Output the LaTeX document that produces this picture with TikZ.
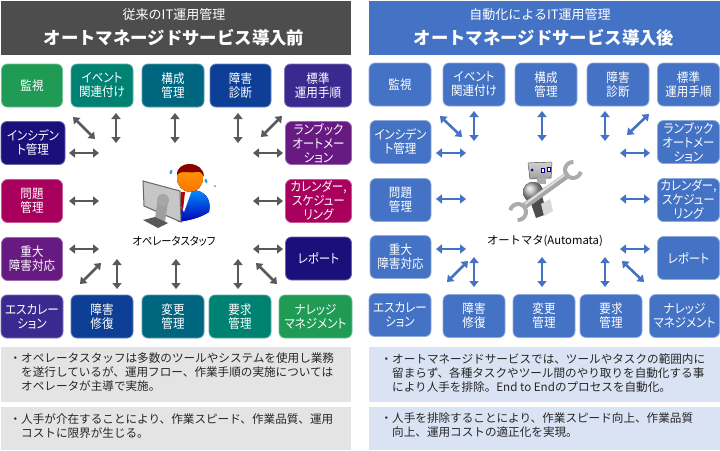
\documentclass[tikz,border=0pt]{standalone}
\usepackage{fontspec}
\setmainfont{Noto Sans CJK JP}
\newfontfamily\tightfont[RawFeature=+palt,FakeStretch=0.9]{Noto Sans CJK JP}
\usepackage{tikz}
\usetikzlibrary{arrows.meta}
\definecolor{headgray}{HTML}{4D4D4D}
\definecolor{autoblue}{HTML}{4472C4}
\definecolor{autoedge}{HTML}{8FAADC}
\definecolor{notegray}{HTML}{E4E4E4}
\definecolor{noteblue}{HTML}{DAE3F3}
\definecolor{arrowgray}{HTML}{595959}
\definecolor{cgreen}{HTML}{1F9B55}
\definecolor{cteal}{HTML}{008272}
\definecolor{cpetrol}{HTML}{006680}
\definecolor{croyal}{HTML}{0D3F96}
\definecolor{cindigo}{HTML}{3A2A8F}
\definecolor{cnavy}{HTML}{1B0F7C}
\definecolor{cviolet}{HTML}{661A82}
\definecolor{cmagenta}{HTML}{A8005C}
\tikzset{
  opsbox/.style={rounded corners=6pt, text=white, align=center, inner sep=0pt,
    draw=#1!65!white, fill=#1, line width=0.8pt, minimum height=43pt,
    font=\tightfont\fontsize{12.8}{14}\selectfont},
  autobox/.style={opsbox=autoblue, draw=autoedge},
  headbar/.style={minimum width=#1, minimum height=54pt, inner sep=0pt},
  subtitle/.style={text=white, inner sep=0pt, font=\fontsize{13}{15}\selectfont},
  maintitle/.style={text=white, inner sep=0pt, font=\fontsize{17.4}{20}\selectfont\bfseries},
  notebar/.style={minimum width=#1, inner sep=0pt},
  notetext/.style={anchor=north west, align=left, inner sep=0pt, text=black!85,
    font=\fontsize{11.6}{14}\selectfont},
  staff/.style={inner sep=0pt, text=black, font=\fontsize{11.3}{13}\selectfont},
  fatgray/.style={{Triangle[width=9pt,length=6pt]}-{Triangle[width=9pt,length=6pt]},
    line width=2.6pt, draw=arrowgray, fill=arrowgray},
  fatblue/.style={fatgray, draw=autoblue, fill=autoblue},
}
\begin{document}
\begin{tikzpicture}[x=1pt,y=-1pt]
    \useasboundingbox (0,0) rectangle (720,450);
    % Headers
    \node[headbar=350pt, fill=headgray, minimum height=54pt] (lhead) at (176,28) {};
    \node[subtitle] (lsub) at (174,15) {従来のIT運用管理};
    \node[maintitle] (ltitle) at (174,38) {オートマネージドサービス導入前};
    \node[headbar=351pt, fill=autoblue] (rhead) at (544.5,28) {};
    \node[subtitle] (rsub) at (540,15) {自動化によるIT運用管理};
    \node[maintitle] (rtitle) at (544,38) {オートマネージドサービス導入後};
    %
    % Left boxes
    \node[opsbox=cgreen, minimum width=61pt] (lmon) at (32,85.5) {監視};
    \node[opsbox=cteal, minimum width=62pt] (levt) at (102,85.5) {イベント\\関連付け};
    \node[opsbox=cpetrol, minimum width=62pt] (lcfg) at (173,85.5) {構成\\管理};
    \node[opsbox=croyal, minimum width=61pt] (ldia) at (240.5,85.5) {障害\\診断};
    \node[opsbox=cindigo, minimum width=67pt] (lstd) at (318,85.5) {標準\\運用手順};
    \node[opsbox=cnavy, minimum width=64pt] (linc) at (33,143) {インシデン\\ト管理};
    \node[opsbox=cviolet, minimum width=66pt] (lrun) at (318.5,143) {ランブック\\オートメー\\ション};
    \node[opsbox=cmagenta, minimum width=61pt] (lprb) at (32,201) {問題\\管理};
    \node[opsbox=cmagenta, minimum width=66pt] (lcal) at (318.5,201) {カレンダー,\\スケジュー\\リング};
    \node[opsbox=cviolet, minimum width=61pt] (lmaj) at (32,259) {重大\\障害対応};
    \node[opsbox=cnavy, minimum width=66pt] (lrep) at (318.5,258.5) {レポート};
    \node[opsbox=cindigo, minimum width=62pt] (lesc) at (32,316.5) {エスカレー\\ション};
    \node[opsbox=croyal, minimum width=62pt] (lfix) at (102,316.5) {障害\\修復};
    \node[opsbox=cpetrol, minimum width=62pt] (lchg) at (173,316.5) {変更\\管理};
    \node[opsbox=cteal, minimum width=62pt] (lreq) at (240,316.5) {要求\\管理};
    \node[opsbox=cgreen, minimum width=73pt] (lkno) at (315.5,316.5) {ナレッジ\\マネジメント};
    %
    % Right boxes
    \node[autobox, minimum width=62pt] (rmon) at (400,84.5) {監視};
    \node[autobox, minimum width=62pt] (revt) at (474,84.5) {イベント\\関連付け};
    \node[autobox, minimum width=62pt] (rcfg) at (546,84.5) {構成\\管理};
    \node[autobox, minimum width=62pt] (rdia) at (618,84.5) {障害\\診断};
    \node[autobox, minimum width=62pt] (rstd) at (688.5,84.5) {標準\\運用手順};
    \node[autobox, minimum width=61pt] (rinc) at (400.5,142) {インシデン\\ト管理};
    \node[autobox, minimum width=62pt] (rrun) at (688.5,142) {ランブック\\オートメー\\ション};
    \node[autobox, minimum width=61pt] (rprb) at (400.5,200) {問題\\管理};
    \node[autobox, minimum width=62pt] (rcal) at (688.5,200) {カレンダー,\\スケジュー\\リング};
    \node[autobox, minimum width=61pt] (rmaj) at (400.5,257) {重大\\障害対応};
    \node[autobox, minimum width=62pt] (rrep) at (688.5,258) {レポート};
    \node[autobox, minimum width=62pt] (resc) at (400,315) {エスカレー\\ション};
    \node[autobox, minimum width=62pt] (rfix) at (474,316) {障害\\修復};
    \node[autobox, minimum width=62pt] (rchg) at (544,316) {変更\\管理};
    \node[autobox, minimum width=62pt] (rreq) at (611,316) {要求\\管理};
    \node[autobox, minimum width=70pt] (rkno) at (684.5,316) {ナレッジ\\マネジメント};
    %
    % Arrows, both ends free
    \foreach \name/\xa/\ya/\xb/\yb in {
      la/73/117/95/139, lb/116/113/116/143, lc/175/113/175/143, ld/238/113/238/143,
      le/282/116/261/137, lf/69/153/99/153, lg/253/153/283/153, lh/69/201/99/201,
      li/253/201/283/201, lj/69/249/99/249, lk/253/249/283/249, ll/101/263/80/284,
      lm/117/259/117/289, ln/176/259/176/289, lo/238/259/238/289, lp/256/263/277/284} {
      \coordinate (\name s) at (\xa,\ya);
      \coordinate (\name e) at (\xb,\yb);
      \draw[fatgray] (\name s) -- (\name e);
    }
    \foreach \name/\xa/\ya/\xb/\yb in {
      ra/440/116/462/137, rb/474/111/474/141, rc/542/111/542/141, rd/605/111/605/141,
      re/649/114/627/135, rf/436/153/466/153, rg/620/153/650/153, rh/436/199/466/199,
      ri/620/199/650/199, rj/436/249/466/249, rk/620/249/650/249, rl/468/261/447/282,
      rm/474/257/474/287, rn/542/257/542/287, ro/605/257/605/287, rp/622/261/644/282} {
      \coordinate (\name s) at (\xa,\ya);
      \coordinate (\name e) at (\xb,\yb);
      \draw[fatblue] (\name s) -- (\name e);
    }
    %
    % Operator icon
    \fill[top color=blue!45!cyan, bottom color=blue!70!black] (178,222) .. controls (178,200) and (184,190) .. (192,190)
      .. controls (205,190) and (212,200) .. (209,212) .. controls (200,218) and (190,220) .. (178,222) -- cycle;
    \fill[white] (181,189) -- (192,190) -- (184,212) -- (180,205) -- cycle;
    \fill[red!75!black] (181,192) -- (185,192) -- (183,210) -- (180,205) -- cycle;
    \fill[top color=orange!75!yellow, bottom color=orange!90!red] (190,178) ellipse (13 and 14);
    \fill[red!55!black] (177,175) .. controls (176,160) and (204,160) .. (204,177)
      .. controls (203,174) and (200,171) .. (197,172) .. controls (190,174) and (182,169) .. (177,175) -- cycle;
    \fill[gray!45, draw=black!60, line width=1pt] (143,181) -- (180,191) -- (181,222) -- (144,206) -- cycle;
    \fill[gray!75] (158,199) -- (168,202) -- (165,222) -- (155,218) -- cycle;
    \fill[gray!70] (163,200) circle (6);
    \fill[black!65] (143,220) -- (155,217) -- (168,223) -- (158,228) -- cycle;
    \fill[autoblue!70!cyan, rotate around={-20:(171,172)}] (171,172) ellipse (1.3 and 2.2);
    \fill[autoblue!70!cyan, rotate around={20:(206,181)}] (206,181) ellipse (1.3 and 2.2);
    \fill[autoblue!70!cyan] (215,186) circle (1);
    %
    % Automata icon
    \fill[top color=gray!35, bottom color=gray!75, draw=gray!70!black, line width=0.4pt] (528,163) -- (552,162) -- (551,178) -- (530,179) -- cycle;
    \fill[blue!60!black] (532,170) circle (1.5);
    \fill[white, draw=blue!50!black, line width=0.4pt] (541,168) rectangle (544,172);
    \fill[white, draw=blue!50!black, line width=0.4pt] (547,167) rectangle (550,171);
    \fill[gray!65] (537,178) rectangle (546,184);
    \fill[ball color=gray!60] (533,192) circle (10);
    \fill[gray!60!black] (529,198) -- (541,192) -- (547,214) -- (536,218) -- cycle;
    \fill[gray!30] (541,204) -- (550,199) -- (553,211) -- (544,216) -- cycle;
    \draw[line width=6.5pt, gray!70] (523,207) -- (569,174);
    \draw[line width=2pt, gray!25] (525,204) -- (567,173);
    \draw[line width=4pt, gray!65] ([shift={(13:8)}]573,170) arc (13:273:8);
    \draw[line width=4pt, gray!65] ([shift={(193:8)}]518,212) arc (193:453:8);
    %
    % Icon captions
    \node[staff, font=\tightfont\fontsize{11.4}{13}\selectfont] (lstaff) at (174,241) {オペレータスタッフ};
    \node[staff] (rstaff) at (545,241) {オートマタ(Automata)};
    %
    % Notes
    \node[notebar=350pt, fill=notegray, minimum height=55pt] (lnotea) at (176,374.5) {};
    \node[notebar=350pt, fill=notegray, minimum height=43pt] (lnoteb) at (176,428.5) {};
    \node[notebar=351pt, fill=noteblue, minimum height=55pt] (rnotea) at (544.5,374.5) {};
    \node[notebar=351pt, fill=noteblue, minimum height=43pt] (rnoteb) at (544.5,428.5) {};
    \node[notetext] (lta) at (21,353) {\llap{・}オペレータスタッフは多数のツールやシステムを使用し業務\\を遂行しているが、運用フロー、作業手順の実施については\\オペレータが主導で実施。};
    \node[notetext] (ltb) at (21,413) {\llap{・}人手が介在することにより、作業スピード、作業品質、運用\\コストに限界が生じる。};
    \node[notetext] (rta) at (392,353) {\llap{・}オートマネージドサービスでは、ツールやタスクの範囲内に\\留まらず、各種タスクやツール間のやり取りを自動化する事\\により人手を排除。End to Endのプロセスを自動化。};
    \node[notetext] (rtb) at (392,413) {\llap{・}人手を排除することにより、作業スピード向上、作業品質\\向上、運用コストの適正化を実現。};
\end{tikzpicture}
\end{document}
